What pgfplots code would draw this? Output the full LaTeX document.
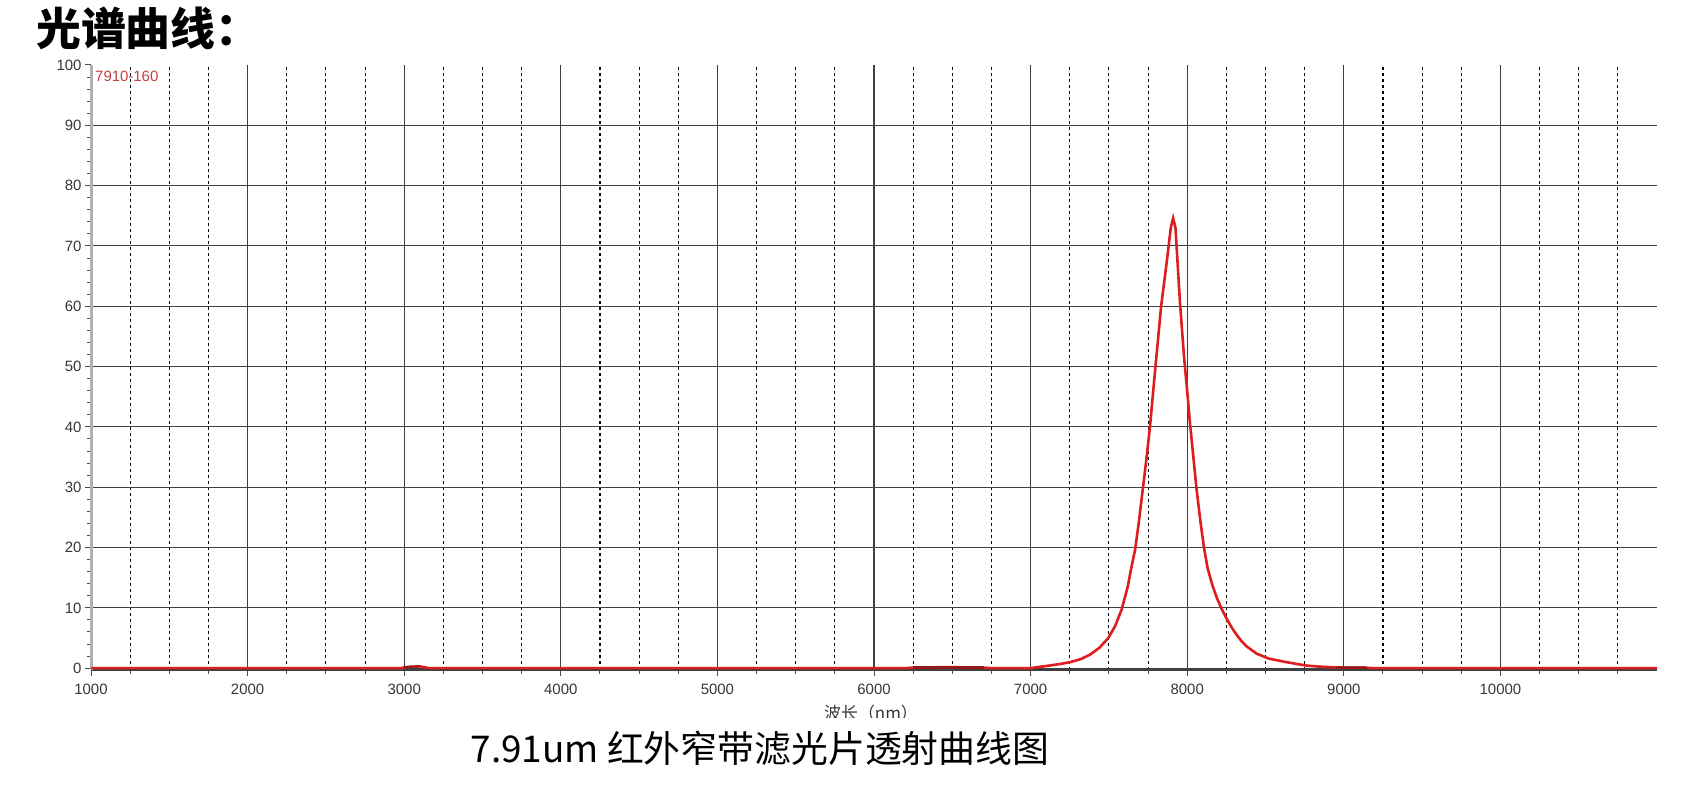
\documentclass[border=0pt]{standalone}
\usepackage{fontspec}
\setmainfont{Liberation Sans}
\newfontfamily\cjk{Noto Sans CJK SC}
\usepackage{pgfplots}
\pgfplotsset{compat=1.18}
\definecolor{curve}{RGB}{222,30,30}
\definecolor{curvedark}{RGB}{150,25,25}
\definecolor{tagred}{RGB}{195,65,65}
\definecolor{ticktext}{RGB}{55,55,55}

\pgfplotstableread{
x     t
1000  0
2000  0
2980  0
3000  0.15
3050  0.25
3100  0.3
3130  0.15
3160  0
5000  0
6200  0
6250  0.1
6400  0.15
6550  0.15
6700  0.1
6750  0
7000  0
7050  0.2
7124  0.45
7200  0.75
7252  1.0
7320  1.5
7380  2.25
7440  3.4
7496  5.0
7540  7.0
7581  9.7
7620  13.5
7645  16.9
7667  19.6
7690  24.0
7716  29.6
7740  34.8
7762  40.0
7790  48.0
7833  59.9
7870  67.5
7895  73.0
7910  74.6
7925  73.0
7954  60.5
7980  51.5
8001  45.6
8018  40.5
8040  34.8
8060  29.6
8085  24.2
8107  20.0
8130  16.6
8160  13.8
8190  11.6
8220  9.8
8250  8.3
8285  6.7
8316  5.5
8350  4.4
8380  3.6
8444  2.4
8520  1.6
8613  1.1
8700  0.7
8763  0.43
8850  0.25
8950  0.12
9000  0.1
9100  0.1
9150  0.05
9200  0
11000 0
}\spectrum

\begin{document}
\begin{tikzpicture}[x=1bp,y=1bp]
\useasboundingbox (0,0) rectangle (1685,788);
\node[anchor=west, inner sep=0] at (36,760) {\cjk\bfseries\fontsize{45}{52}\selectfont 光谱曲线：};
\begin{axis}[
    at={(91bp,118bp)}, anchor=south west,
    scale only axis, width=1566bp, height=605bp,
    xmin=1000, xmax=11000, ymin=-0.3, ymax=100,
    axis x line=bottom, axis y line=left,
    x axis line style={-, draw=black!75, line width=1.5bp},
    y axis line style={-, draw=black!30, line width=3bp},
    xtick={1000,2000,...,10000},
    scaled x ticks=false,
    minor xtick={1250,1500,1750,2250,2500,2750,3250,3500,3750,4250,4500,4750,5250,5500,5750,6250,6500,6750,7250,7500,7750,8250,8500,8750,9250,9500,9750,10250,10500,10750},
    ytick={0,10,...,90},
    extra y ticks={100},
    extra y tick style={grid=none},
    minor ytick={0,2,...,100},
    xmajorgrids, xminorgrids, ymajorgrids,
    major grid style={solid, draw=black!75, line width=1.1bp},
    minor grid style={draw=black, line width=1.1bp, dash pattern=on 3bp off 3bp},
    tick align=outside,
    major tick length=6bp, minor tick length=4bp,
    tick style={draw=black!70, line width=1bp},
    /pgf/number format/assume math mode=true,
    /pgf/number format/1000 sep={},
    ticklabel style={font=\fontsize{15}{17}\selectfont, text=ticktext},
    xticklabel style={yshift=-5bp},
    clip=false,
]
\addplot[draw=curve, line width=2.6bp] table[x=x, y=t] {\spectrum};
\addplot[draw=curvedark, line width=2.6bp] coordinates {(6250,0.12) (6700,0.12)};
\addplot[draw=curvedark, line width=2.2bp] coordinates {(3000,0.15) (3050,0.25) (3100,0.3)};
\addplot[draw=curvedark, line width=2.4bp] coordinates {(8950,0.1) (9150,0.08)};
\end{axis}
\node[anchor=west, inner sep=0, text=tagred] at (95,712) {\fontsize{15}{17}\selectfont 7910-160};
\begin{scope}
\clip (780,70) rectangle (960,110);
\node[inner sep=0, text=ticktext] at (871,75) {\cjk\fontsize{17}{19}\selectfont 波长（nm）};
\end{scope}
\node[inner sep=0] at (760,40) {\cjk\fontsize{37}{43}\selectfont 7.91um 红外窄带滤光片透射曲线图};
\end{tikzpicture}
\end{document}
